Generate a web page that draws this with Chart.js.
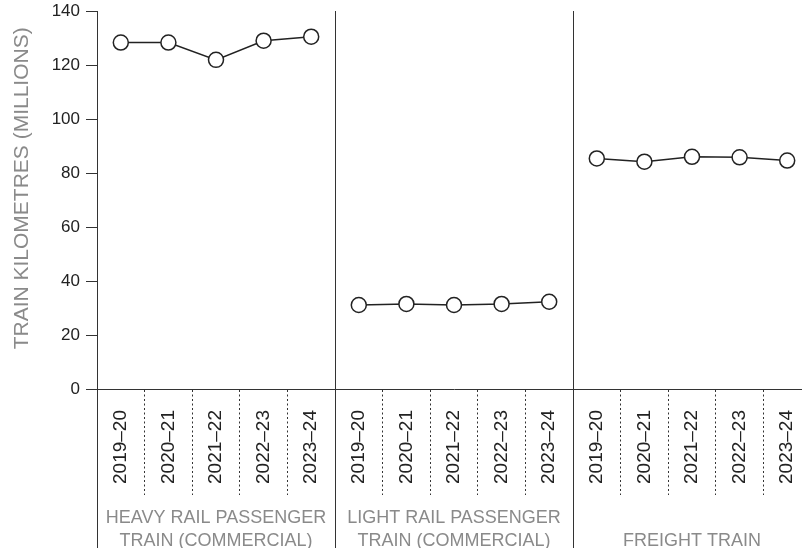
<!DOCTYPE html>
<html>
<head>
<meta charset="utf-8">
<script src="https://cdn.jsdelivr.net/npm/chart.js@4/dist/chart.umd.min.js"></script>
<style>
  html, body { margin: 0; padding: 0; background: #fff; overflow: hidden; }
  #wrap { width: 820px; height: 548px; }
</style>
</head>
<body>
<div id="wrap"><canvas id="chart" width="820" height="548"></canvas></div>
<script>
// 年度與分組
const years = ['2019–20', '2020–21', '2021–22', '2022–23', '2023–24'];
const groupLabels = [
    ['HEAVY RAIL PASSENGER', 'TRAIN (COMMERCIAL)'],
    ['LIGHT RAIL PASSENGER', 'TRAIN (COMMERCIAL)'],
    ['', 'FREIGHT TRAIN']
];
const yTicks = [0, 20, 40, 60, 80, 100, 120, 140];
// 前面留空格讓標題略往上移
const yTitle = '    TRAIN KILOMETRES (MILLIONS)';

// 各組數據 (百萬列車公里)
const heavyRail = [128.3, 128.3, 121.9, 129.0, 130.5];
const lightRail = [31.1, 31.5, 31.1, 31.5, 32.3];
const freight   = [85.4, 84.2, 86.0, 85.8, 84.6];

const axisColor = '#333';
const textColor = '#222';
const greyText = '#8a8a8a';
const fontFamily = '"Liberation Sans", Arial, sans-serif';

// 15 個類別：每組 5 年
const categories = [].concat(years, years, years);

// 把某組放在第 n 組位置，其餘補 null
function placeGroup(values, n) {
    const out = new Array(categories.length).fill(null);
    values.forEach((v, i) => { out[n * years.length + i] = v; });
    return out;
}

function lineSet(values, n) {
    return {
        data: placeGroup(values, n),
        borderColor: '#222',
        borderWidth: 1.5,
        pointRadius: 7.5,
        pointBorderWidth: 1.5,
        pointBackgroundColor: '#fff',
        pointBorderColor: '#222',
        pointHoverRadius: 7.5,
        tension: 0,
        spanGaps: false
    };
}

new Chart(document.getElementById('chart'), {
    type: 'line',
    data: {
        labels: categories,
        datasets: [lineSet(heavyRail, 0), lineSet(lightRail, 1), lineSet(freight, 2)]
    },
    options: {
        responsive: false,
        animation: false,
        devicePixelRatio: 1,
        layout: { padding: { top: 11, right: 8, left: 0, bottom: 0 } },
        plugins: {
            legend: { display: false },
            tooltip: { enabled: false }
        },
        scales: {
            x: {
                type: 'category',
                position: 'bottom',
                offset: true,
                grid: {
                    offset: true,
                    drawOnChartArea: false,
                    drawTicks: true,
                    tickLength: 106,
                    tickColor: axisColor,
                    tickWidth: 1,
                    tickBorderDash: ctx => (ctx.index % years.length === 0 ? [] : [2, 2.5])
                },
                border: { display: true, color: axisColor, width: 1 },
                ticks: {
                    autoSkip: false,
                    maxRotation: 90,
                    minRotation: 90,
                    padding: -85,
                    color: textColor,
                    font: { family: fontFamily, size: 19 }
                },
                afterFit: scale => { scale.height = 106; }
            },
            groups: {
                type: 'category',
                position: 'bottom',
                labels: groupLabels,
                offset: true,
                grid: {
                    offset: true,
                    drawOnChartArea: true,
                    drawTicks: true,
                    tickLength: 53,
                    color: axisColor,
                    tickColor: axisColor,
                    lineWidth: 1
                },
                border: { display: false },
                ticks: {
                    padding: -41,
                    color: greyText,
                    font: { family: fontFamily, size: 18, lineHeight: 1.25 }
                },
                afterFit: scale => { scale.height = 53; }
            },
            y: {
                min: 0,
                max: 140,
                afterBuildTicks: scale => { scale.ticks = yTicks.map(v => ({ value: v })); },
                grid: {
                    drawOnChartArea: false,
                    drawTicks: true,
                    tickLength: 11,
                    tickColor: axisColor
                },
                border: { display: true, color: axisColor, width: 1 },
                ticks: {
                    padding: 6,
                    color: textColor,
                    font: { family: fontFamily, size: 17 }
                },
                title: {
                    display: true,
                    text: yTitle,
                    color: greyText,
                    padding: { top: 10, bottom: 0 },
                    font: { family: fontFamily, size: 21 }
                },
                afterFit: scale => {
                    scale.width = 97;
                    scale.paddingTop = 0;
                    scale.paddingBottom = 0;
                }
            }
        }
    }
});
</script>
</body>
</html>
